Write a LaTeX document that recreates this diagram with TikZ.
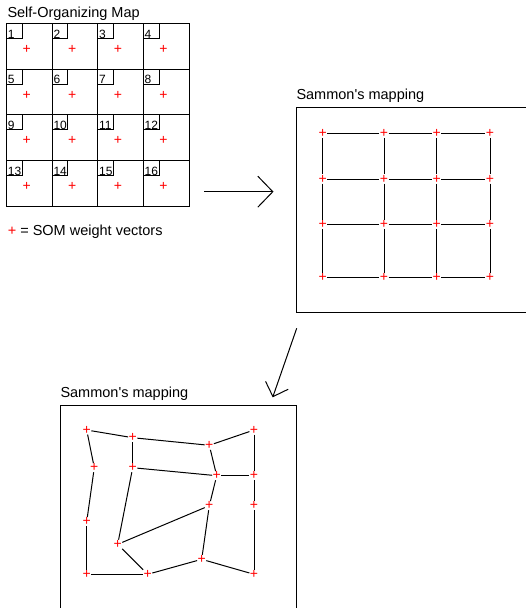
\documentclass[tikz,border=0pt]{standalone}
\usepackage{fontspec}
\setmainfont{Liberation Sans}
\usetikzlibrary{arrows.meta}
\tikzset{
  wv/.style={text=red, inner sep=0pt, font=\fontsize{14}{14}\selectfont},
  mesh/.style={black, line width=1pt},
  lbl/.style={anchor=base west, inner sep=0pt, font=\fontsize{14.5}{16}\selectfont},
  cellnum/.style={anchor=base west, inner sep=0pt, font=\fontsize{12}{12}\selectfont},
}
\begin{document}
\begin{tikzpicture}[x=1pt, y=-1pt, line width=1pt]
  \useasboundingbox (0,0) rectangle (526,608);
  \clip (0,0) rectangle (526,608);

  \node[lbl] (somtitle) at (7,17.3) {Self-Organizing Map};
  \foreach \r in {0,...,3}
    \foreach \c in {0,...,3}{
      \pgfmathtruncatemacro{\n}{4*\r+\c+1}
      \draw (6.7+45.6*\c,23.5+45.7*\r) rectangle +(45.6,45.7);
      \draw (22.2+45.6*\c,23.5+45.7*\r) |- +(-15.5,15);
      \node[cellnum] (num\n) at (7.4+45.6*\c,38.2+45.7*\r) {\n};
      \node[wv] (som\n) at (26.7+45.6*\c,49.5+45.7*\r) {+};
    }
  \node[lbl] (legend) at (7.3,235) {\textcolor{red}{+} = SOM weight vectors};

  \coordinate (a1s) at (204,191.7);
  \coordinate (a1e) at (273.5,191.7);
  \draw[-{Straight Barb[length=15pt,width=31pt]}] (a1s) -- (a1e);

  \node[lbl] (sm1title) at (296,99.5) {Sammon\textquotesingle s mapping};
  \draw (296,107.7) rectangle (540,312.7);
  \foreach \r/\yy in {0/133.3,1/179,2/224.3,3/277.3}
    \foreach \c/\xx in {0/322.7,1/384,2/436.7,3/490}{
      \pgfmathtruncatemacro{\n}{4*\r+\c+1}
      \node[wv] (sa\n) at (\xx,\yy) {+};
    }
  \foreach \i/\j in {1/2,2/3,3/4,5/6,6/7,7/8,9/10,10/11,11/12,13/14,14/15,15/16,
                     1/5,5/9,9/13,2/6,6/10,10/14,3/7,7/11,11/15,4/8,8/12,12/16}
    \draw[mesh] (sa\i) -- (sa\j);

  \coordinate (a2s) at (296.7,328.3);
  \coordinate (a2e) at (272.7,397.3);
  \draw[-{Straight Barb[length=12pt,width=24pt]}] (a2s) -- (a2e);

  \node[lbl] (sm2title) at (60,397) {Sammon\textquotesingle s mapping};
  \draw (60,405) rectangle (296,620);
  \foreach \n/\xx/\yy in {1/86.7/430,2/132.7/437.7,3/209.3/445.3,4/254/430,
                          5/94.3/467.7,6/132.7/467.7,7/216.7/475.7,8/254/475.7,
                          9/86.7/521.7,10/117.7/544.3,11/209.3/505.7,12/254/505.7,
                          13/86.7/574.3,14/147.7/574.3,15/201.7/559.3,16/254/574.3}
    \node[wv] (sb\n) at (\xx,\yy) {+};
  \foreach \i/\j in {1/2,2/3,3/4,6/7,7/8,13/14,14/15,15/16,10/11,
                     1/5,5/9,9/13,2/6,6/10,10/14,3/7,7/11,11/15,4/8,8/12,12/16}
    \draw[mesh] (sb\i) -- (sb\j);
\end{tikzpicture}
\end{document}
